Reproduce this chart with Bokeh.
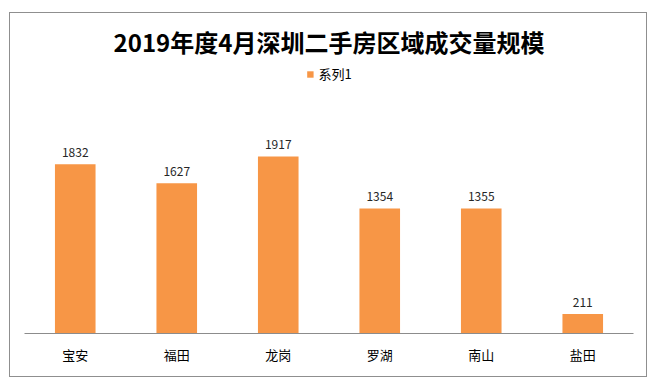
from bokeh.plotting import figure
from bokeh.models import ColumnDataSource, LabelSet, Legend, LegendItem, Range1d, FactorRange
from bokeh.core.properties import value
from bokeh.embed import file_html
from bokeh.resources import INLINE

categories = ["宝安", "福田", "龙岗", "罗湖", "南山", "盐田"]
values = [1832, 1627, 1917, 1354, 1355, 211]
series_name = "系列1"
title_text = "2019年度4月深圳二手房区域成交量规模"

FONT = "Noto Sans CJK SC"
BAR = "#F79646"

src = ColumnDataSource(dict(cat=categories, val=values, lab=[str(v) for v in values]))

p = figure(x_range=FactorRange(factors=categories), y_range=Range1d(0, 2924),
           width=638, height=365, output_backend="svg", toolbar_location=None,
           title=title_text, min_border_left=14, min_border_right=15,
           min_border_bottom=45, min_border_top=50)
p.styles = {"border": "1px solid #8f8f8f", "margin": "12px 0 0 9px"}

r = p.vbar(x="cat", top="val", width=0.4, source=src, fill_color=BAR, line_color=None)

labels = LabelSet(x="cat", y="val", text="lab", source=src, y_offset=7,
                  text_align="center", text_baseline="bottom",
                  text_font_size="12px", text_color="#262626", text_font=value(FONT))
p.add_layout(labels)

legend = Legend(items=[LegendItem(label=series_name, renderers=[r])],
                orientation="horizontal", location="top_center",
                border_line_alpha=0, background_fill_alpha=0,
                glyph_width=8, glyph_height=8, label_text_font_size="13px",
                label_text_font=FONT, label_text_color="#000000",
                padding=1, margin=0)
p.add_layout(legend)

p.title.text_font = FONT
p.title.text_font_size = "24px"
p.title.text_font_style = "bold"
p.title.align = "center"
p.title.text_color = "#000000"
p.title.standoff = 10

p.yaxis.visible = False
p.xgrid.grid_line_color = None
p.ygrid.grid_line_color = None
p.outline_line_color = None
p.xaxis.axis_line_color = "#8c8c8c"
p.xaxis.major_tick_line_color = None
p.xaxis.minor_tick_line_color = None
p.xaxis.major_label_text_font = FONT
p.xaxis.major_label_text_font_size = "13px"
p.xaxis.major_label_text_color = "#000000"
p.xaxis.major_label_standoff = 5
p.x_range.range_padding = 0

open("out.html", "w").write(file_html(p, INLINE))
